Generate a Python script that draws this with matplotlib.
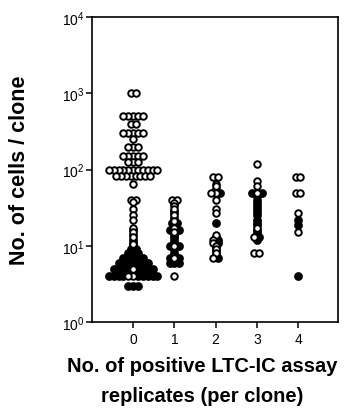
import numpy as np
from matplotlib import pyplot as plt


# cells per clone, split by symbol (open / filled) for each number of positive replicates
CATEGORIES = [0, 1, 2, 3, 4]

OPEN_0 = [1000, 1000,
          500, 500, 500, 500, 500,
          400, 400,
          300, 300, 300, 300, 300,
          250,
          200, 200, 200,
          150, 150, 150, 150, 150,
          125, 125, 125,
          100, 100, 100, 100, 100, 100, 100, 100, 100, 100, 100,
          82, 82, 82, 82, 82, 82, 82, 82,
          64,
          40, 40, 37, 30, 25, 22, 17, 15, 13, 10.5, 5, 4, 4]
FILLED_0 = [16, 14, 12, 11, 10, 9, 9,
            8, 8, 8,
            7, 7, 7, 7, 7,
            6, 6, 6, 6, 6, 6, 6,
            5, 5, 5, 5, 5, 5, 5, 5,
            4, 4, 4, 4, 4, 4, 4, 4, 4,
            3, 3, 3]

OPEN_1 = [40, 40, 36, 33, 30, 25, 21, 17, 15, 10, 7, 4]
FILLED_1 = [35, 29, 27, 23, 20, 20, 19, 18, 16, 16, 16, 14, 13, 12, 11, 10,
            10, 9, 8, 7.5, 7, 7, 6, 6, 6]

OPEN_2 = [80, 80, 65, 60, 50, 50, 40, 30, 27, 14, 12, 11, 10, 9, 8, 7]
FILLED_2 = [56, 50, 20, 13, 12, 11, 9.5, 8.5, 7.5, 7]

OPEN_3 = [120, 70, 60, 50, 17, 13, 8, 8]
FILLED_3 = [50, 50, 45, 40, 36, 33, 30, 28, 25, 22, 20, 19, 16, 15, 14, 13, 12]

OPEN_4 = [80, 80, 50, 50, 27, 15]
FILLED_4 = [22, 19, 4]

OPEN = [OPEN_0, OPEN_1, OPEN_2, OPEN_3, OPEN_4]
FILLED = [FILLED_0, FILLED_1, FILLED_2, FILLED_3, FILLED_4]

STEP = 0.118  # horizontal spacing between symbols sharing a value


def spread(center, open_vals, filled_vals):
    # lay out points with equal values side by side, open symbols in the middle
    rows = {}
    for v in open_vals:
        rows.setdefault(v, []).append(False)
    for v in filled_vals:
        rows.setdefault(v, []).append(True)
    pts = []
    for v, flags in rows.items():
        n = len(flags)
        offs = (np.arange(n) - (n - 1) / 2) * STEP
        offs = offs[np.argsort(np.abs(offs), kind="stable")]
        for off, f in zip(offs, sorted(flags)):
            pts.append((center + off, v, f))
    return pts


def main():
    plt.rcParams["font.family"] = ["Liberation Sans", "DejaVu Sans"]
    plt.rcParams["mathtext.fontset"] = "custom"
    plt.rcParams["mathtext.rm"] = "Liberation Sans"
    plt.rcParams["mathtext.it"] = "Liberation Sans"

    fig = plt.figure(figsize=(3.51, 4.10), dpi=100)
    ax = fig.add_axes([0.262, 0.212, 0.701, 0.744])

    for c, ov, fv in zip(CATEGORIES, OPEN, FILLED):
        pts = spread(c, ov, fv)
        xo = [p[0] for p in pts if not p[2]]
        yo = [p[1] for p in pts if not p[2]]
        xf = [p[0] for p in pts if p[2]]
        yf = [p[1] for p in pts if p[2]]
        ax.plot(xf, yf, "o", ms=5.0, mfc="black", mec="black", mew=1.3)
        ax.plot(xo, yo, "o", ms=4.7, mfc="white", mec="black", mew=1.4)

    ax.set_yscale("log")
    ax.set_ylim(1, 1e4)
    ax.set_xlim(-1, 4.97)
    ax.set_yticks([1, 10, 100, 1000, 10000])
    ax.yaxis.set_minor_locator(plt.NullLocator())
    ax.set_xticks(CATEGORIES)
    ax.tick_params(axis="both", direction="out", length=4, width=1.1,
                   labelsize=10, pad=1.5)
    ax.tick_params(axis="x", pad=3)
    for s in ax.spines.values():
        s.set_linewidth(1.2)

    ax.set_ylabel("No. of cells / clone", fontsize=15.5, fontweight="bold")
    ax.yaxis.set_label_coords(-0.25, 0.5)
    ax.set_xlabel("No. of positive LTC-IC assay\nreplicates (per clone)",
                  fontsize=14.5, fontweight="bold", linespacing=1.75)
    ax.xaxis.set_label_coords(0.45, -0.11)
    ax.xaxis.label.set_va("top")

    fig.savefig("out.png", dpi=100)


if __name__ == "__main__":
    main()
